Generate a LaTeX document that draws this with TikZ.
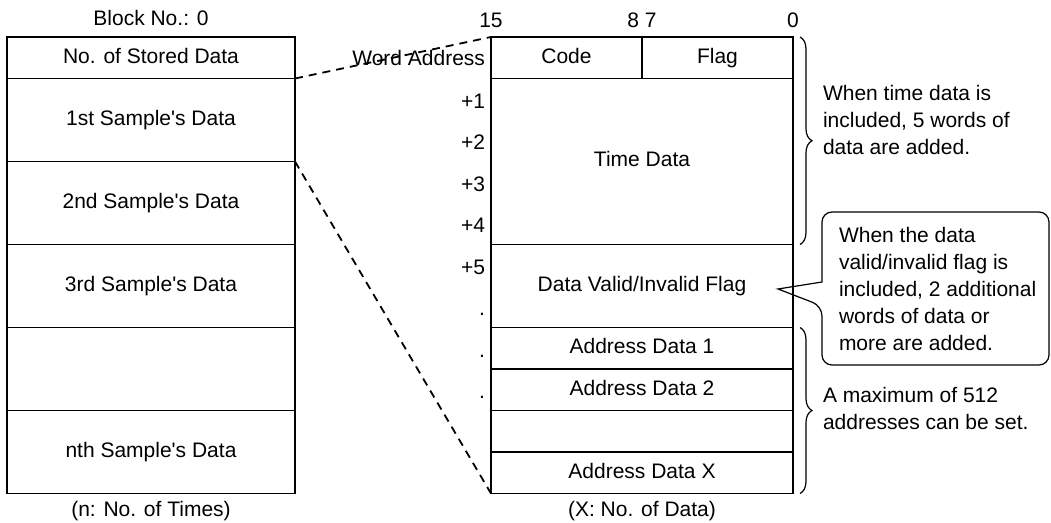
\documentclass[tikz,border=0pt]{standalone}
\usepackage{fontspec}
\setmainfont{Liberation Sans}
\usepackage{tikz}
\usetikzlibrary{positioning,decorations.pathreplacing}

\begin{document}
\begin{tikzpicture}[
    x=0.5pt, y=-0.5pt,
    font=\fontsize{10.5}{13.5}\selectfont,
    every node/.style={inner sep=0pt, outer sep=0pt},
    cell/.style={rectangle, draw, line width=0.9pt, text height=7.6pt, text depth=2.2pt},
    sample/.style={cell, minimum width=144pt, minimum height=41.5pt},
    word/.style={cell, minimum width=151pt, minimum height=20.75pt},
    half/.style={cell, minimum width=75.5pt, minimum height=20.75pt},
    addr/.style={anchor=east, text height=7.6pt, text depth=0pt},
    note/.style={anchor=west, align=left},
    link/.style={dash pattern=on 4pt off 3pt, line width=0.9pt},
    bracket/.style={decorate, decoration={brace, amplitude=6pt}, line width=0.6pt}
]
\useasboundingbox (0,0) rectangle (1051,523);

% Block (left)
\node[sample, minimum height=20.75pt] (stored) at (151,57.75) {No. of Stored Data};
\node[sample, below=0pt of stored] (s1) {1st Sample\textquotesingle s Data};
\node[sample, below=0pt of s1] (s2) {2nd Sample\textquotesingle s Data};
\node[sample, below=0pt of s2] (s3) {3rd Sample\textquotesingle s Data};
\node[sample, below=0pt of s3] (s4) {};
\node[sample, below=0pt of s4] (sn) {nth Sample\textquotesingle s Data};

\node[above=5.75pt of stored] (blockno) {Block No.: 0};
\node[below=3.8pt of sn] (ntimes) {(n: No. of Times)};

% Sample data (right)
\node[half] (code) at (566.5,57.75) {Code};
\node[half, right=0pt of code] (flag) {Flag};
\node[word, minimum height=83pt, below=0pt of code.south east] (time) {Time Data};
\node[word, minimum height=41.5pt, below=0pt of time] (valid) {Data Valid/Invalid Flag};
\node[word, below=0pt of valid] (a1) {Address Data 1};
\node[word, below=0pt of a1] (a2) {Address Data 2};
\node[word, below=0pt of a2] (a3) {};
\node[word, below=0pt of a3] (ax) {Address Data X};

\node[below=3.8pt of ax] (xdata) {(X: No. of Data)};

% Bit numbers
\node[above=4.7pt of code.north west] (b15) {15};
\node[above=4.7pt of code.north east] (b87) {8 7};
\node[above=4.7pt of flag.north east] (b0) {0};

% Word addresses
\node[addr, left=3pt of code] (w0) {Word Address};
\foreach \lbl [count=\i] in {+1,+2,+3,+4,+5,.,.,.}
    \node[addr] (w\i) at (485, {38.5+41.5*(\i+0.5)}) {\lbl};

% Dashed links
\draw[link] (stored.south east) -- (code.north west);
\draw[link] (s1.south east) -- (ax.south west);

% Braces and notes
\draw[bracket] ([xshift=3.5pt]flag.north east) -- ([xshift=3.5pt]time.south east);
\draw[bracket] ([xshift=3.5pt]a1.north east) -- ([xshift=3.5pt]ax.south east);

\node[note] (timenote) at (823,120) {When time data is\\included, 5 words of\\data are added.};
\node[note] (maxnote) at (823,408) {A maximum of 512\\addresses can be set.};

% Callout
\node[note] (validnote) at (839,288.5) {When the data\\valid/invalid flag is\\included, 2 additional\\words of data or\\more are added.};
\coordinate (tip) at (778,289);
\draw[line width=0.6pt, rounded corners=5pt] (822,282) -- (822,212) -- (1049,212) -- (1049,365) -- (822,365) -- (822,306) [sharp corners] -- (tip) -- cycle;

\end{tikzpicture}
\end{document}
